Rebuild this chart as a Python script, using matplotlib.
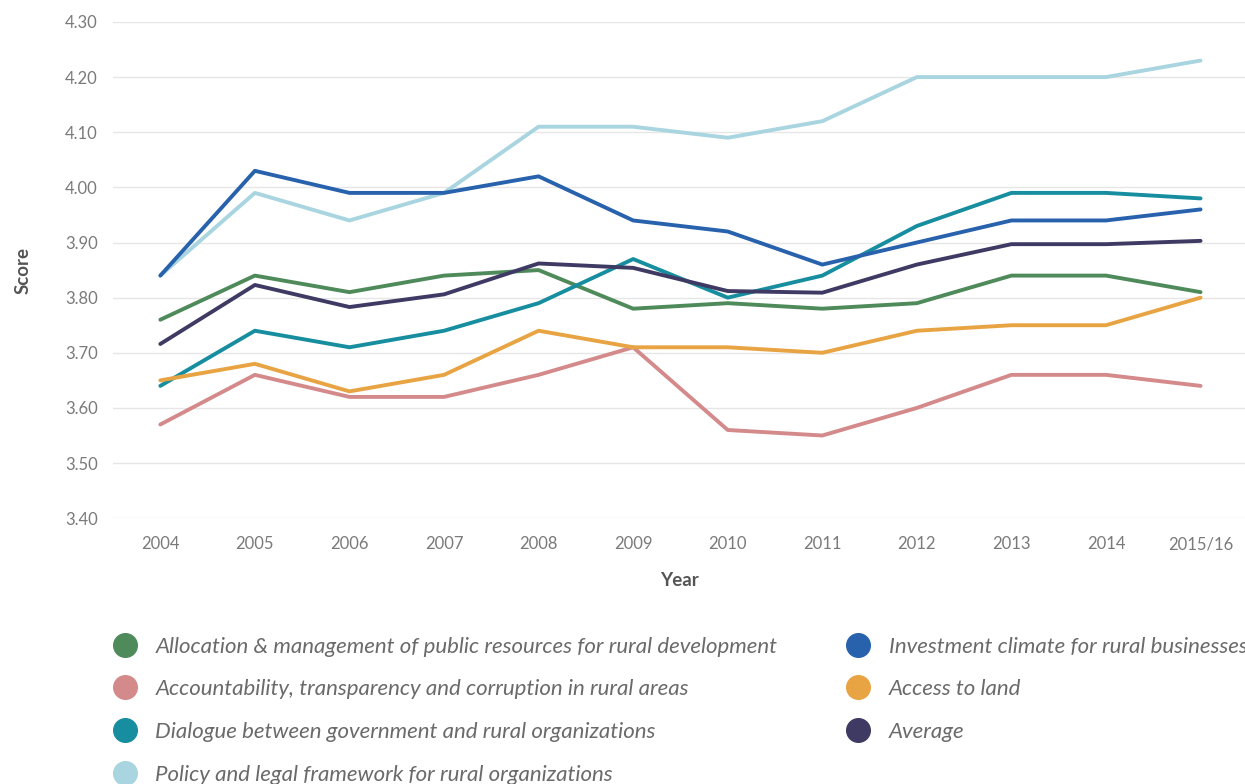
import numpy as np
import matplotlib.pyplot as plt
from matplotlib.lines import Line2D

plt.rcParams['font.family'] = ['Lato', 'DejaVu Sans']

years = ['2004', '2005', '2006', '2007', '2008', '2009', '2010', '2011',
         '2012', '2013', '2014', '2015/16']

allocation = [3.76, 3.84, 3.81, 3.84, 3.85, 3.78, 3.79, 3.78, 3.79, 3.84, 3.84, 3.81]
accountability = [3.57, 3.66, 3.62, 3.62, 3.66, 3.71, 3.56, 3.55, 3.60, 3.66, 3.66, 3.64]
dialogue = [3.64, 3.74, 3.71, 3.74, 3.79, 3.87, 3.80, 3.84, 3.93, 3.99, 3.99, 3.98]
policy = [3.84, 3.99, 3.94, 3.99, 4.11, 4.11, 4.09, 4.12, 4.20, 4.20, 4.20, 4.23]
investment = [3.84, 4.03, 3.99, 3.99, 4.02, 3.94, 3.92, 3.86, 3.90, 3.94, 3.94, 3.96]
land = [3.65, 3.68, 3.63, 3.66, 3.74, 3.71, 3.71, 3.70, 3.74, 3.75, 3.75, 3.80]
average = [3.716, 3.823, 3.783, 3.806, 3.862, 3.854, 3.812, 3.809, 3.860, 3.897, 3.897, 3.903]

series = [
    ('Allocation & management of public resources for rural development', allocation, '#4f8a5b'),
    ('Accountability, transparency and corruption in rural areas', accountability, '#d48a8a'),
    ('Dialogue between government and rural organizations', dialogue, '#168e9f'),
    ('Policy and legal framework for rural organizations', policy, '#a8d5e0'),
    ('Investment climate for rural businesses', investment, '#2862ad'),
    ('Access to land', land, '#e8a443'),
    ('Average', average, '#3f3a63'),
]

fig = plt.figure(figsize=(12.45, 7.84), dpi=100)
ax = fig.add_axes([0.0908, 0.339, 0.9092, 0.633])

x = np.arange(len(years))
# light blue first so the blue sits over it
order = [3, 0, 1, 2, 5, 6, 4]
for i in order:
    name, vals, col = series[i]
    ax.plot(x, vals, color=col, lw=2.8, solid_capstyle='round', zorder=3)

ax.set_xlim(-0.5, 11.47)
ax.set_ylim(3.40, 4.30)
yt = np.arange(3.40, 4.301, 0.10)
ax.set_yticks(yt)
ax.set_yticklabels(['%.2f' % v for v in yt])
ax.set_xticks(x)
ax.set_xticklabels(years)
ax.grid(axis='y', color='#e6e6e6', lw=1)
ax.set_axisbelow(True)
for s in ax.spines.values():
    s.set_visible(False)
ax.tick_params(length=0, labelsize=12, labelcolor='#7a7a7a')
ax.tick_params(axis='x', pad=13)
ax.tick_params(axis='y', pad=11)

ax.set_xlabel('Year', fontsize=13.5, fontweight='bold', color='#555555', labelpad=14)
ax.set_ylabel('Score', fontsize=13.5, fontweight='bold', color='#555555', labelpad=24)

handles = [Line2D([], [], ls='none', marker='o', markersize=17, color=c) for _, _, c in series]
labels = [n for n, _, _ in series]
fig.legend(handles, labels, loc='upper left', bbox_to_anchor=(0.0916, 0.188),
           ncol=2, frameon=False,
           prop={'style': 'italic', 'size': 16},
           labelcolor='#6a6a6a', handlelength=1.0, handletextpad=0.86,
           labelspacing=1.02, columnspacing=3.15, borderaxespad=0, borderpad=0)

fig.savefig('out.png', dpi=100)
